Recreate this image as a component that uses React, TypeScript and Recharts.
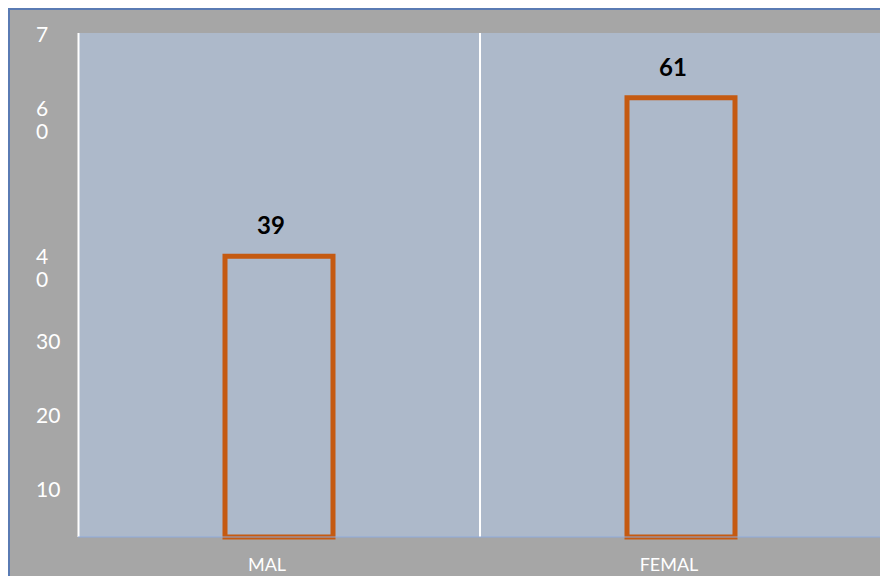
import { Bar, BarChart, CartesianGrid, LabelList, XAxis, YAxis } from 'recharts';

const categories = ['MAL', 'FEMAL'];
const values = [39, 61];
const yTickValues = [10, 20, 30, 40, 60, 70];
// the source wraps some tick labels onto two lines, and the "0" of 70 is cut off
const yTickLabels = ['10', '20', '30', '4\n0', '6\n0', '7\n'];

const data = categories.map((name, i) => ({ name, value: values[i] }));

const FONT = 'Lato, "Open Sans", sans-serif';

function YTick(props: any) {
  const { x, y, payload } = props;
  const idx = yTickValues.indexOf(payload.value);
  const lines = (idx >= 0 ? yTickLabels[idx] : String(payload.value)).split('\n');
  const lineGap = 23;
  const top = y - ((lines.length - 1) * lineGap) / 2;
  return (
    <g>
      {lines.map((ln: string, i: number) => (
        <text
          key={i}
          x={x - 34}
          y={top + i * lineGap + 7.5}
          textAnchor="start"
          fill="#ffffff"
          fontSize={21}
          fontFamily={FONT}
        >
          {ln}
        </text>
      ))}
    </g>
  );
}

function XTick(props: any) {
  const { x, y, payload } = props;
  return (
    <text x={x - 12} y={y + 26} textAnchor="middle" fill="#ffffff" fontSize={18} fontFamily={FONT}>
      {payload.value}
    </text>
  );
}

export default function App() {
  return (
    <div
      style={{
        width: 880,
        height: 568,
        boxSizing: 'border-box',
        background: '#a6a6a6',
        borderTop: '2px solid #5a7bb3',
        borderLeft: '2px solid #5a7bb3',
      }}
    >
      <BarChart width={878} height={566} data={data} margin={{ top: 23, right: 6, left: 0, bottom: 0 }}>
        <CartesianGrid
          yAxisId="val"
          horizontal={false}
          fill="#adb9ca"
          fillOpacity={1}
          stroke="#ffffff"
          strokeWidth={2}
          verticalCoordinatesGenerator={({ offset }: any) => [
            offset.left + 0.5,
            offset.left + offset.width / 2,
            offset.left + offset.width - 0.5,
          ]}
        />
        <XAxis
          dataKey="name"
          height={39}
          axisLine={{ stroke: '#8eaadb', strokeWidth: 1 }}
          tickLine={false}
          tick={<XTick />}
          interval={0}
        />
        <YAxis
          yAxisId="lbl"
          type="number"
          width={68}
          domain={[3.6, 71.7]}
          ticks={yTickValues}
          allowDataOverflow
          interval={0}
          axisLine={false}
          tickLine={false}
          tick={<YTick />}
        />
        <YAxis yAxisId="val" type="number" domain={[0, 70]} hide />
        <Bar
          yAxisId="val"
          dataKey="value"
          fill="none"
          stroke="#c55a11"
          strokeWidth={5}
          barSize={108}
          isAnimationActive={false}
        >
          <LabelList
            dataKey="value"
            position="top"
            offset={22}
            dx={-8}
            fill="#000000"
            fontSize={24}
            fontWeight="bold"
            fontFamily={FONT}
          />
        </Bar>
      </BarChart>
    </div>
  );
}
